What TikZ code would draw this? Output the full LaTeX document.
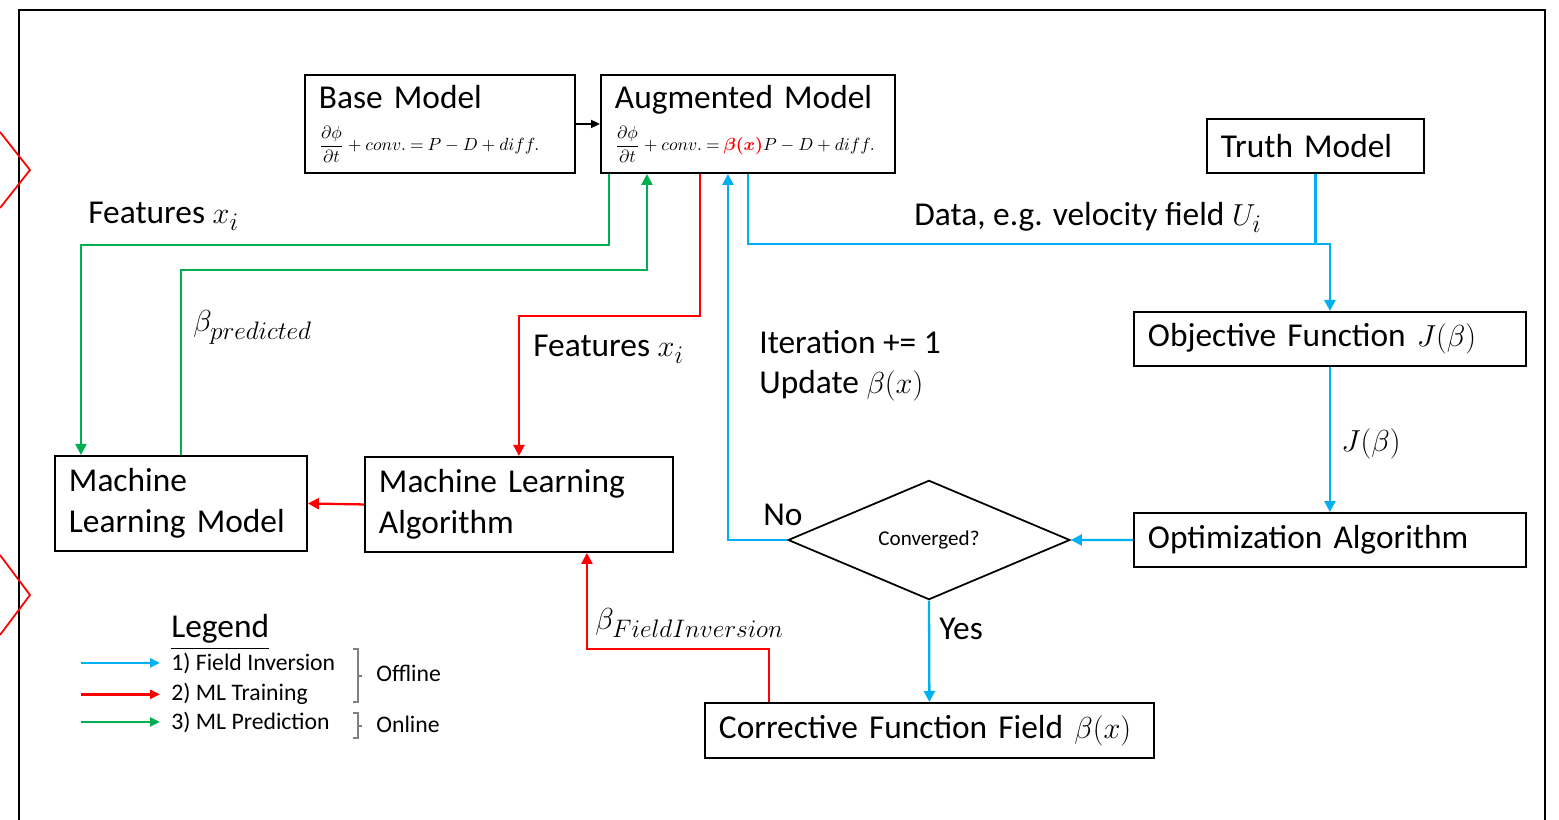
\documentclass[tikz,border=0pt]{standalone}
\usepackage{amsmath}
\usepackage{amssymb}
\usepackage{xcolor}
\usepackage{fontspec}
\setmainfont{Carlito}
\usepackage{tikz}
\usetikzlibrary{arrows.meta,shapes.geometric}

\definecolor{fiblue}{HTML}{00B0F0}
\definecolor{mlred}{HTML}{FF0000}
\definecolor{mlgreen}{HTML}{00B050}
\DeclareMathSizes{19}{19}{14.5}{11}
\newcommand\boxfont{\fontsize{19}{23}\selectfont}
\newcommand\eqfont{\fontsize{10.4}{13}\selectfont\thickmuskip=4mu}
\newcommand\legfont{\fontsize{13.5}{16}\selectfont}

\begin{document}
\begin{tikzpicture}[x=0.02cm,y=-0.02cm,
    box/.style={draw,line width=1.1pt,anchor=north west,align=left,inner xsep=0.28cm,inner ysep=0pt,font=\boxfont},
    decision/.style={draw,diamond,line width=1pt,inner sep=0pt,minimum width=5.64cm,minimum height=2.36cm,font=\fontsize{12}{14}\selectfont},
    lbl/.style={inner sep=0pt,font=\boxfont},
    legtext/.style={inner sep=0pt,font=\legfont},
    tip/.style={-{Triangle[length=0.22cm,width=0.22cm]}},
    fiflow/.style={fiblue,line width=1.3pt,tip},
    mtflow/.style={mlred,line width=1.3pt,tip},
    mpflow/.style={mlgreen,line width=1.3pt,tip}]
                    \useasboundingbox (0,0) rectangle (1559,820);
                    \draw[line width=1.2pt] (19,820) -- (19,10) -- (1545,10) -- (1545,820);
                    \draw[mlred,line width=1pt] (0,132) -- (30,170) -- (0,208);
                    \draw[mlred,line width=1pt] (0,555) -- (30,595) -- (0,635);

                    \node[box,text width=4.84cm,minimum height=1.96cm] (base) at (304,74)
                        {Base Model\\[1pt]\mbox{\eqfont$\displaystyle\frac{\partial\phi}{\partial t}+conv.=P-D+diff.$}};
                    \node[box,text width=5.32cm,minimum height=1.96cm] (aug) at (600,74)
                        {Augmented Model\\[1pt]\mbox{\eqfont$\displaystyle\frac{\partial\phi}{\partial t}+conv.={\color{mlred}\boldsymbol{\beta(x)}}P-D+diff.$}};
                    \node[box,text width=3.78cm,minimum height=1.08cm] (truth) at (1206,118) {Truth Model};
                    \node[box,text width=7.28cm,minimum height=1.08cm] (obj) at (1133,311) {Objective Function $J(\beta)$};
                    \node[box,text width=7.28cm,minimum height=1.08cm] (opt) at (1133,512) {Optimization Algorithm};
                    \node[decision] (conv) at (929,540) {Converged?};
                    \node[box,text width=8.42cm,minimum height=1.1cm] (corr) at (704,702) {Corrective Function Field $\beta(x)$};
                    \node[box,text width=5.6cm,minimum height=1.9cm] (mla) at (364,456) {Machine Learning\\Algorithm};
                    \node[box,text width=4.48cm,minimum height=1.9cm] (mlm) at (54,455) {Machine\\Learning Model};

                    \draw[line width=1pt,-{Triangle[length=0.18cm,width=0.16cm]}] (base.east) -- (aug.west);

                    \draw[fiflow] (aug.south) -- ++(0,70) -| (obj.north);
                    \draw[fiblue,line width=1.3pt] (truth.south) -- ++(0,70);
                    \draw[fiflow] (obj.south) -- (opt.north);
                    \draw[fiflow] (opt.west) -- (conv.east);
                    \draw[fiflow] (conv.west) -| ([xshift=-0.4cm]aug.south);
                    \draw[fiflow] (conv.south) -- (corr.north);

                    \draw[mpflow] ([xshift=-2.78cm]aug.south) -- ++(0,71) -| ([xshift=-2cm]mlm.north);
                    \draw[mpflow] (mlm.north) -- ++(0,-185) -| ([xshift=-2.02cm]aug.south);

                    \draw[mtflow] ([xshift=-0.96cm]aug.south) -- ++(0,142) -| (mla.north);
                    \draw[mtflow] (mla.west) -- (mlm.east);
                    \draw[mtflow] ([xshift=-3.21cm]corr.north) -- ++(0,-53) -| ([xshift=1.36cm]mla.south);

                    \node[lbl,anchor=base west] (featgreen) at (88,224) {Features $x_i$};
                    \node[lbl,anchor=base west] (betapred) at (193,332) {$\beta_{predicted}$};
                    \node[lbl,anchor=base west] (featred) at (533,357) {Features $x_i$};
                    \node[lbl,anchor=north west,align=left] (iter) at (759,330) {Iteration += 1\\Update $\beta(x)$};
                    \node[lbl,anchor=base west] (data) at (914,226) {Data, e.g. velocity field $U_i$};
                    \node[lbl,anchor=base west] (jlab) at (1341,452) {$J(\beta)$};
                    \node[lbl,anchor=base west] (nolab) at (763,526) {No};
                    \node[lbl,anchor=base west] (yeslab) at (939,640) {Yes};
                    \node[lbl,anchor=base west] (betafi) at (595,630) {$\beta_{FieldInversion}$};

                    \node[lbl,anchor=base west] (legend) at (171,638) {\underline{Legend}};
                    \foreach \n/\c/\y/\t in {1/fiblue/670/Field Inversion,2/mlred/701/ML Training,3/mlgreen/729/ML Prediction} {
                        \node[legtext,anchor=base west] (leg\n) at (171,\y) {\n) \t};
                        \draw[\c,line width=1.3pt,-{Triangle[length=0.2cm,width=0.18cm]}] ([xshift=-1.8cm]leg\n.west) -- ([xshift=-0.22cm]leg\n.west);
                    }
                    \draw[gray,line width=0.6pt] (353,649) -- (358,649) -- (358,702) -- (353,702) (358,676) -- (362,676);
                    \draw[gray,line width=0.6pt] (353,713) -- (358,713) -- (358,738) -- (353,738) (358,726) -- (362,726);
                    \node[legtext,anchor=base west] (offline) at (376,682) {Offline};
                    \node[legtext,anchor=base west] (online) at (376,732) {Online};
                 \end{tikzpicture}
\end{document}
